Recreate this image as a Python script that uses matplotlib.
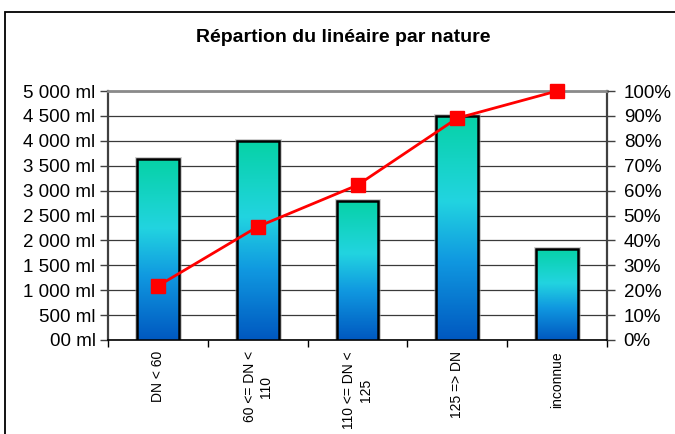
import matplotlib
matplotlib.use("Agg")
import matplotlib.pyplot as plt
import numpy as np
from matplotlib.colors import LinearSegmentedColormap
from matplotlib.patches import Rectangle

plt.rcParams['font.family'] = ['Liberation Sans', 'DejaVu Sans']

categories = ["DN < 60", "60 <= DN <\n110", "110 <= DN <\n125", "125 => DN", "inconnue"]
lengths_ml = [3630, 3995, 2800, 4500, 1830]
cumulative_pct = [21.7, 45.5, 62.2, 89.1, 100.0]
left_ticks = [0, 500, 1000, 1500, 2000, 2500, 3000, 3500, 4000, 4500, 5000]
left_labels = ["00 ml", "500 ml", "1 000 ml", "1 500 ml", "2 000 ml", "2 500 ml",
               "3 000 ml", "3 500 ml", "4 000 ml", "4 500 ml", "5 000 ml"]
right_ticks = [0, 10, 20, 30, 40, 50, 60, 70, 80, 90, 100]
right_labels = [f"{v}%" for v in right_ticks]
title = "Répartion du linéaire par nature"

W, H = 675, 434
fig = plt.figure(figsize=(W / 100, H / 100), dpi=100)
fig.patch.set_facecolor("white")

# outer frame
fig.patches.append(Rectangle((5 / W, -0.1), 1.2, (H - 12) / H + 0.1,
                             transform=fig.transFigure, fill=False,
                             edgecolor="black", lw=1.3, zorder=0))

ax = fig.add_axes([108 / W, (H - 340) / H, (607 - 108) / W, (340 - 91) / H])
ax.set_xlim(-0.5, len(categories) - 0.5)
ax.set_ylim(0, 5000)

cmap = LinearSegmentedColormap.from_list("grad", [
    (0.0, "#0058C0"),
    (0.35, "#1098E0"),
    (0.62, "#22D4E0"),
    (1.0, "#06D2A6"),
])
grad = np.linspace(0, 1, 256).reshape(-1, 1)

x = np.arange(len(categories))
bw = 0.42
bars = ax.bar(x, lengths_ml, width=bw, facecolor="none", edgecolor="black",
              linewidth=1.8, zorder=4)
for b in bars:
    bx, by = b.get_x(), b.get_y()
    bwid, bh = b.get_width(), b.get_height()
    ax.add_patch(Rectangle((bx, by), bwid, bh, facecolor="none",
                           edgecolor="#9a9a9a", lw=3.5, alpha=0.5, zorder=2))
    im = ax.imshow(grad, cmap=cmap, aspect="auto", origin="lower",
                   extent=[bx, bx + bwid, by, by + bh], zorder=3,
                   interpolation="bilinear")
    im.set_clip_path(b)

ax.set_xlim(-0.5, len(categories) - 0.5)
ax.set_ylim(0, 5000)

ax.set_yticks(left_ticks)
ax.set_yticklabels(left_labels, fontsize=13.5)
ax.yaxis.grid(True, color="#3a3a3a", lw=0.9)
ax.set_axisbelow(True)
ax.tick_params(axis="y", direction="out", length=6, width=1, color="#404040", pad=3)

ax.set_xticks(np.arange(-0.5, len(categories), 1.0))
ax.set_xticklabels([])
ax.tick_params(axis="x", which="major", direction="out", length=5, width=1, color="black")
ax.set_xticks(x, minor=True)
ax.set_xticklabels(categories, minor=True, rotation=90, fontsize=10,
                   va="top", ha="center", multialignment="center")
ax.tick_params(axis="x", which="minor", length=0, pad=8)

for s in ["left", "right"]:
    ax.spines[s].set_color("#404040")
    ax.spines[s].set_linewidth(1.6)
ax.spines["bottom"].set_color("black")
ax.spines["bottom"].set_linewidth(1.2)
ax.spines["top"].set_color("#8a8a8a")
ax.spines["top"].set_linewidth(2.0)

ax2 = ax.twinx()
ax2.set_ylim(0, 100)
ax2.set_yticks(right_ticks)
ax2.set_yticklabels(right_labels, fontsize=13.5)
ax2.tick_params(axis="y", direction="out", length=6, width=1, color="#404040", pad=6)
for s in ["left", "right", "top", "bottom"]:
    ax2.spines[s].set_visible(False)
ax2.plot(x, cumulative_pct, color="#FF0000", lw=2, marker="s", markersize=10,
         markerfacecolor="#FF0000", markeredgecolor="#FF0000", zorder=5,
         clip_on=False)
ax2.set_xlim(-0.5, len(categories) - 0.5)

fig.text(0.508, 1 - 38 / H, title, ha="center", va="center",
         fontsize=14, fontweight="bold")

fig.savefig("out.png", dpi=100)
